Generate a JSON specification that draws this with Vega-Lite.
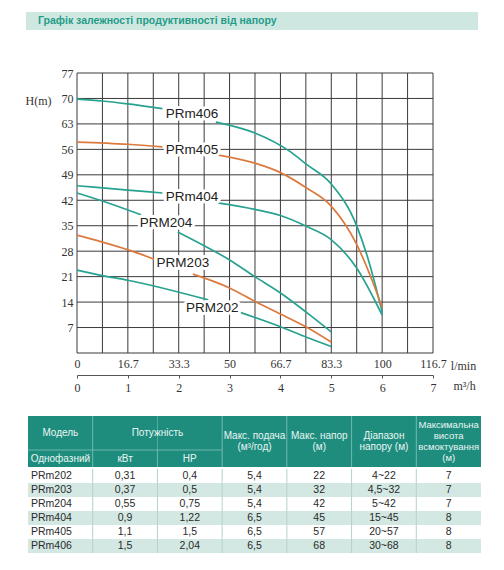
{
  "$schema": "https://vega.github.io/schema/vega-lite/v6.json",
  "padding": {"left": 25, "top": 12, "right": 0, "bottom": 0},
  "background": "white",
  "config": {"view": {"stroke": null}, "font": "Liberation Sans", "axis": {"labelOverlap": false}},
  "resolve": {"scale": {"color": "independent", "fill": "independent"}},
  "columns": 1,
  "spacing": 37,
  "concat": [
    {
      "width": 401,
      "height": 18,
      "data": {"values": [{"t": "Графік залежності продуктивності від напору"}]},
      "encoding": {
        "x": {
          "datum": "band",
          "type": "nominal",
          "scale": {"domain": ["band"], "range": [-51, 401], "paddingInner": 0, "paddingOuter": 0},
          "axis": null
        }
      },
      "layer": [
        {"mark": {"type": "rect", "color": "#cfe7e1"}},
        {
          "mark": {"type": "text", "align": "left", "baseline": "middle", "dx": 12, "font": "Liberation Sans", "fontSize": 10.5, "fontWeight": "bold", "color": "#1f9c88"},
          "encoding": {
            "x": {"datum": "band", "type": "nominal", "bandPosition": 0},
            "text": {"field": "t"}
          }
        }
      ]
    },
    {
      "columns": 1,
      "spacing": 22,
      "concat": [
        {
          "width": 356,
          "height": 280,
          "layer": [
            {
              "encoding": {
                "x": {
                  "field": "q",
                  "type": "quantitative",
                  "scale": {"domain": [0, 116.6667], "nice": false, "zero": false},
                  "axis": {
                    "values": [0, 8.3333, 16.6667, 25, 33.3333, 41.6667, 50, 58.3333, 66.6667, 75, 83.3333, 91.6667, 100, 108.3333, 116.6667],
                    "format": ".1~f",
                    "labelExpr": "abs(datum.value / 16.6667 - round(datum.value / 16.6667)) < 0.01 ? datum.label : ''",
                    "grid": false,
                    "ticks": false,
                    "domain": false,
                    "labelOverlap": false,
                    "labelPadding": 5,
                    "labelFont": "Liberation Serif",
                    "labelFontSize": 12,
                    "labelColor": "#333",
                    "labelFlush": false,
                    "title": "l/min",
                    "titleFont": "Liberation Serif",
                    "titleFontSize": 12,
                    "titleFontWeight": "normal",
                    "titleColor": "#333",
                    "titleX": 386,
                    "titleY": 12,
                    "titleAlign": "center",
                    "titleBaseline": "middle"
                  }
                },
                "y": {
                  "field": "h",
                  "type": "quantitative",
                  "scale": {"domain": [0, 77], "nice": false},
                  "axis": {
                    "values": [0, 7, 14, 21, 28, 35, 42, 49, 56, 63, 70, 77],
                    "labelExpr": "datum.value == 0 ? '' : datum.label",
                    "grid": false,
                    "ticks": false,
                    "domain": false,
                    "labelOverlap": false,
                    "labelPadding": 4,
                    "labelFont": "Liberation Serif",
                    "labelFontSize": 12,
                    "labelColor": "#333",
                    "title": "H(m)",
                    "titleFont": "Liberation Serif",
                    "titleFontSize": 12,
                    "titleFontWeight": "normal",
                    "titleColor": "#333",
                    "titleAngle": 0,
                    "titleX": -39,
                    "titleY": 27,
                    "titleAlign": "center",
                    "titleBaseline": "middle"
                  }
                }
              },
              "layer": [
                {
                  "data": {"values": [{"q": 0}, {"q": 8.3333}, {"q": 16.6667}, {"q": 25}, {"q": 33.3333}, {"q": 41.6667}, {"q": 50}, {"q": 58.3333}, {"q": 66.6667}, {"q": 75}, {"q": 83.3333}, {"q": 91.6667}, {"q": 100}, {"q": 108.3333}, {"q": 116.6667}]},
                  "mark": {"type": "rule", "color": "#3a3a3a", "strokeWidth": 1},
                  "encoding": {"y": null}
                },
                {
                  "data": {"values": [{"h": 0}, {"h": 7}, {"h": 14}, {"h": 21}, {"h": 28}, {"h": 35}, {"h": 42}, {"h": 49}, {"h": 56}, {"h": 63}, {"h": 70}, {"h": 77}]},
                  "mark": {"type": "rule", "color": "#3a3a3a", "strokeWidth": 1},
                  "encoding": {"x": null}
                },
                {
                  "data": {
                    "values": [
                      {"model": "PRm406", "seg": "406a", "q": 0, "h": 69.8},
                      {"model": "PRm406", "seg": "406a", "q": 8.3, "h": 69.3},
                      {"model": "PRm406", "seg": "406a", "q": 16.7, "h": 68.5},
                      {"model": "PRm406", "seg": "406a", "q": 28, "h": 67.2},
                      {"model": "PRm406", "seg": "406b", "q": 45.5, "h": 63.5},
                      {"model": "PRm406", "seg": "406b", "q": 58.3, "h": 60.5},
                      {"model": "PRm406", "seg": "406b", "q": 70, "h": 55.3},
                      {"model": "PRm406", "seg": "406b", "q": 75, "h": 52},
                      {"model": "PRm406", "seg": "406b", "q": 83.3, "h": 46.5},
                      {"model": "PRm406", "seg": "406b", "q": 91.7, "h": 34.9},
                      {"model": "PRm406", "seg": "406b", "q": 95.5, "h": 25.6},
                      {"model": "PRm406", "seg": "406b", "q": 100, "h": 11.3},
                      {"model": "PRm405", "seg": "405a", "q": 0, "h": 58},
                      {"model": "PRm405", "seg": "405a", "q": 16.7, "h": 57.4},
                      {"model": "PRm405", "seg": "405a", "q": 28, "h": 56.7},
                      {"model": "PRm405", "seg": "405b", "q": 46, "h": 54.5},
                      {"model": "PRm405", "seg": "405b", "q": 58.3, "h": 52.2},
                      {"model": "PRm405", "seg": "405b", "q": 66.7, "h": 49.6},
                      {"model": "PRm405", "seg": "405b", "q": 75, "h": 45.5},
                      {"model": "PRm405", "seg": "405b", "q": 83.3, "h": 40.4},
                      {"model": "PRm405", "seg": "405b", "q": 91.7, "h": 29.8},
                      {"model": "PRm405", "seg": "405b", "q": 96.7, "h": 20},
                      {"model": "PRm405", "seg": "405b", "q": 100, "h": 12.5},
                      {"model": "PRm404", "seg": "404a", "q": 0, "h": 46},
                      {"model": "PRm404", "seg": "404a", "q": 16.7, "h": 44.8},
                      {"model": "PRm404", "seg": "404a", "q": 28, "h": 44},
                      {"model": "PRm404", "seg": "404b", "q": 46, "h": 41.3},
                      {"model": "PRm404", "seg": "404b", "q": 58.3, "h": 39.5},
                      {"model": "PRm404", "seg": "404b", "q": 66.7, "h": 37.8},
                      {"model": "PRm404", "seg": "404b", "q": 75, "h": 34.9},
                      {"model": "PRm404", "seg": "404b", "q": 83.3, "h": 31.2},
                      {"model": "PRm404", "seg": "404b", "q": 91.7, "h": 23.3},
                      {"model": "PRm404", "seg": "404b", "q": 100, "h": 10.4},
                      {"model": "PRM204", "seg": "204a", "q": 0, "h": 44},
                      {"model": "PRM204", "seg": "204a", "q": 8.3, "h": 41.8},
                      {"model": "PRM204", "seg": "204a", "q": 21, "h": 38},
                      {"model": "PRM204", "seg": "204b", "q": 33, "h": 33.3},
                      {"model": "PRM204", "seg": "204b", "q": 41.7, "h": 29.5},
                      {"model": "PRM204", "seg": "204b", "q": 50, "h": 25.6},
                      {"model": "PRM204", "seg": "204b", "q": 58.3, "h": 21},
                      {"model": "PRM204", "seg": "204b", "q": 66.7, "h": 16.5},
                      {"model": "PRM204", "seg": "204b", "q": 75, "h": 11.3},
                      {"model": "PRM204", "seg": "204b", "q": 83.3, "h": 5.8},
                      {"model": "PRM203", "seg": "203a", "q": 0, "h": 32.4},
                      {"model": "PRM203", "seg": "203a", "q": 8.3, "h": 30.5},
                      {"model": "PRM203", "seg": "203a", "q": 17, "h": 28.3},
                      {"model": "PRM203", "seg": "203a", "q": 25.3, "h": 25.8},
                      {"model": "PRM203", "seg": "203b", "q": 38, "h": 21.7},
                      {"model": "PRM203", "seg": "203b", "q": 50, "h": 17.9},
                      {"model": "PRM203", "seg": "203b", "q": 58.7, "h": 14},
                      {"model": "PRM203", "seg": "203b", "q": 66.7, "h": 10.7},
                      {"model": "PRM203", "seg": "203b", "q": 75, "h": 7.2},
                      {"model": "PRM203", "seg": "203b", "q": 83.3, "h": 3},
                      {"model": "PRM202", "seg": "202a", "q": 0, "h": 22.8},
                      {"model": "PRM202", "seg": "202a", "q": 8.3, "h": 21.3},
                      {"model": "PRM202", "seg": "202a", "q": 16.7, "h": 20},
                      {"model": "PRM202", "seg": "202a", "q": 43, "h": 14.6},
                      {"model": "PRM202", "seg": "202b", "q": 53, "h": 11.3},
                      {"model": "PRM202", "seg": "202b", "q": 66.7, "h": 7.2},
                      {"model": "PRM202", "seg": "202b", "q": 75, "h": 4.4},
                      {"model": "PRM202", "seg": "202b", "q": 83.3, "h": 1.8}
                    ]
                  },
                  "mark": {"type": "line", "interpolate": "monotone", "strokeWidth": 1.7},
                  "encoding": {
                    "color": {
                      "field": "model",
                      "type": "nominal",
                      "scale": {
                        "domain": ["PRm406", "PRm405", "PRm404", "PRM204", "PRM203", "PRM202"],
                        "range": ["#27a291", "#dc7a3e", "#27a291", "#27a291", "#dc7a3e", "#27a291"]
                      },
                      "legend": null
                    },
                    "detail": {"field": "seg"}
                  }
                },
                {
                  "data": {"name": "curveLabels"},
                  "mark": {"type": "text", "font": "Liberation Sans", "fontSize": 13.5, "color": "white", "stroke": "white", "strokeWidth": 6, "strokeJoin": "round", "baseline": "middle"},
                  "encoding": {
                    "text": {"field": "model"}
                  }
                },
                {
                  "data": {"name": "curveLabels"},
                  "mark": {"type": "text", "font": "Liberation Sans", "fontSize": 13.5, "color": "#222", "baseline": "middle"},
                  "encoding": {
                    "text": {"field": "model"}
                  }
                }
              ]
            },
            {
              "data": {"values": [{}]},
              "mark": {"type": "point", "opacity": 0},
              "encoding": {
                "x": {
                  "datum": 0,
                  "type": "quantitative",
                  "scale": {"domain": [0, 7], "nice": false},
                  "axis": {
                    "orient": "bottom",
                    "offset": 22,
                    "values": [0, 1, 2, 3, 4, 5, 6, 7],
                    "grid": false,
                    "domainColor": "#555",
                    "tickColor": "#555",
                    "tickSize": 3,
                    "labelPadding": 4,
                    "labelFont": "Liberation Serif",
                    "labelFontSize": 12,
                    "labelColor": "#333",
                    "labelFlush": false,
                    "title": "m³/h",
                    "titleFont": "Liberation Serif",
                    "titleFontSize": 12,
                    "titleFontWeight": "normal",
                    "titleColor": "#333",
                    "titleX": 387,
                    "titleY": 10,
                    "titleAlign": "center",
                    "titleBaseline": "middle"
                  }
                }
              }
            }
          ],
          "resolve": {"scale": {"x": "independent"}}
        },
        {
          "columns": 1,
          "spacing": 0,
          "concat": [
            {
              "width": 404,
              "height": 51,
              "encoding": {
                "x": {
                  "type": "nominal",
                  "scale": {"domain": ["model", "kw", "hp", "flow", "head", "range", "suction"], "range": [-49, 404], "paddingInner": 0, "paddingOuter": 0},
                  "axis": null
                },
                "y": {
                  "type": "nominal",
                  "scale": {"domain": ["h1", "h2", "h3"], "paddingInner": 0, "paddingOuter": 0},
                  "axis": null
                }
              },
              "layer": [
                {
                  "data": {"values": [{"c": "model"}, {"c": "kw"}, {"c": "hp"}, {"c": "flow"}, {"c": "head"}, {"c": "range"}, {"c": "suction"}]},
                  "mark": {"type": "rect", "color": "#1e8d7e"},
                  "encoding": {"x": {"field": "c"}, "y": null}
                },
                {
                  "data": {"values": [{"c": "kw"}, {"c": "flow"}, {"c": "head"}, {"c": "range"}, {"c": "suction"}]},
                  "mark": {"type": "rule", "color": "#6db5aa", "strokeWidth": 1},
                  "encoding": {"x": {"field": "c", "bandPosition": 0}, "y": null}
                },
                {
                  "data": {"values": [{"c": "hp", "r": "h3"}]},
                  "mark": {"type": "rule", "color": "#6db5aa", "strokeWidth": 1},
                  "encoding": {
                    "x": {"field": "c", "bandPosition": 0},
                    "y": {"field": "r", "bandPosition": 0},
                    "y2": {"field": "r", "bandPosition": 1}
                  }
                },
                {
                  "data": {"values": [{"c": "model", "c2": "hp", "r": "h3"}]},
                  "mark": {"type": "rule", "color": "#6db5aa", "strokeWidth": 1},
                  "encoding": {
                    "y": {"field": "r", "bandPosition": 0},
                    "x": {"field": "c", "bandPosition": 0},
                    "x2": {"field": "c2", "bandPosition": 1}
                  }
                },
                {
                  "data": {"values": [{"c": "model", "t": "Модель"}]},
                  "mark": {"type": "text", "fontSize": 10, "color": "#eaf6f3"},
                  "encoding": {
                    "x": {"field": "c", "bandPosition": 0.5},
                    "y": {"datum": "h1", "bandPosition": 1},
                    "text": {"field": "t"}
                  }
                },
                {
                  "data": {"values": [{"c": "kw", "t": "Потужність"}]},
                  "mark": {"type": "text", "fontSize": 10, "color": "#eaf6f3"},
                  "encoding": {
                    "x": {"field": "c", "bandPosition": 1},
                    "y": {"datum": "h1", "bandPosition": 1},
                    "text": {"field": "t"}
                  }
                },
                {
                  "data": {"values": [{"c": "model", "t": "Однофазний"}, {"c": "kw", "t": "кВт"}, {"c": "hp", "t": "HP"}]},
                  "mark": {"type": "text", "fontSize": 10, "color": "#eaf6f3"},
                  "encoding": {
                    "x": {"field": "c", "bandPosition": 0.5},
                    "y": {"datum": "h3", "bandPosition": 0.5},
                    "text": {"field": "t"}
                  }
                },
                {
                  "data": {
                    "values": [
                      {"c": "flow", "t": "Макс. подача\n(м³/год)"},
                      {"c": "head", "t": "Макс. напор\n(м)"},
                      {"c": "range", "t": "Діапазон\nнапору (м)"}
                    ]
                  },
                  "mark": {"type": "text", "fontSize": 10, "color": "#eaf6f3", "lineBreak": "\n", "lineHeight": 11, "dy": -5.5},
                  "encoding": {
                    "x": {"field": "c", "bandPosition": 0.5},
                    "y": {"datum": "h2", "bandPosition": 0.5},
                    "text": {"field": "t"}
                  }
                },
                {
                  "data": {"values": [{"c": "suction", "t": "Максимальна\nвисота\nвсмоктування\n(м)"}]},
                  "mark": {"type": "text", "fontSize": 9.5, "color": "#eaf6f3", "lineBreak": "\n", "lineHeight": 11, "dy": -16.5},
                  "encoding": {
                    "x": {"field": "c", "bandPosition": 0.5},
                    "y": {"datum": "h2", "bandPosition": 0.5},
                    "text": {"field": "t"}
                  }
                }
              ]
            },
            {
              "width": 404,
              "height": 84,
              "data": {
                "values": [
                  {"model": "PRm202", "kw": "0,31", "hp": "0,4", "flow": "5,4", "head": "22", "range": "4~22", "suction": "7"},
                  {"model": "PRm203", "kw": "0,37", "hp": "0,5", "flow": "5,4", "head": "32", "range": "4,5~32", "suction": "7"},
                  {"model": "PRm204", "kw": "0,55", "hp": "0,75", "flow": "5,4", "head": "42", "range": "5~42", "suction": "7"},
                  {"model": "PRm404", "kw": "0,9", "hp": "1,22", "flow": "6,5", "head": "45", "range": "15~45", "suction": "8"},
                  {"model": "PRm405", "kw": "1,1", "hp": "1,5", "flow": "6,5", "head": "57", "range": "20~57", "suction": "8"},
                  {"model": "PRm406", "kw": "1,5", "hp": "2,04", "flow": "6,5", "head": "68", "range": "30~68", "suction": "8"}
                ]
              },
              "transform": [{"fold": ["model", "kw", "hp", "flow", "head", "range", "suction"], "as": ["key", "value"]}],
              "encoding": {
                "x": {
                  "field": "key",
                  "type": "nominal",
                  "scale": {"domain": ["model", "kw", "hp", "flow", "head", "range", "suction"], "range": [-49, 404], "paddingInner": 0, "paddingOuter": 0},
                  "axis": null
                },
                "y": {
                  "field": "model",
                  "type": "nominal",
                  "sort": null,
                  "scale": {"domain": ["PRm202", "PRm203", "PRm204", "PRm404", "PRm405", "PRm406"], "paddingInner": 0, "paddingOuter": 0},
                  "axis": null
                }
              },
              "layer": [
                {
                  "mark": {"type": "rect"},
                  "encoding": {
                    "fill": {
                      "field": "model",
                      "type": "nominal",
                      "scale": {
                        "domain": ["PRm202", "PRm203", "PRm204", "PRm404", "PRm405", "PRm406"],
                        "range": ["#ffffff", "#d3e8e2", "#ffffff", "#d3e8e2", "#ffffff", "#d3e8e2"]
                      },
                      "legend": null
                    }
                  }
                },
                {
                  "transform": [{"filter": "datum.key != 'model' && datum.model == 'PRm202'"}],
                  "mark": {"type": "rule", "color": "#b7d0ca", "strokeWidth": 1},
                  "encoding": {"x": {"field": "key", "type": "nominal", "bandPosition": 0}, "y": null}
                },
                {
                  "transform": [{"filter": "datum.key == 'model'"}],
                  "mark": {"type": "text", "fontSize": 10.5, "color": "#2a2a2a", "align": "left", "dx": 3},
                  "encoding": {
                    "x": {"field": "key", "type": "nominal", "bandPosition": 0},
                    "text": {"field": "value"}
                  }
                },
                {
                  "transform": [{"filter": "datum.key != 'model'"}],
                  "mark": {"type": "text", "fontSize": 10.5, "color": "#2a2a2a"},
                  "encoding": {
                    "x": {"field": "key", "type": "nominal", "bandPosition": 0.5},
                    "text": {"field": "value"}
                  }
                }
              ]
            }
          ]
        }
      ]
    }
  ],
  "datasets": {
    "curveLabels": [
      {"model": "PRm406", "q": 37.7, "h": 65.7},
      {"model": "PRm405", "q": 37.7, "h": 55.8},
      {"model": "PRm404", "q": 37.7, "h": 43},
      {"model": "PRM204", "q": 29.2, "h": 35.7},
      {"model": "PRM203", "q": 34.7, "h": 24.7},
      {"model": "PRM202", "q": 44.3, "h": 12.4}
    ]
  }
}
